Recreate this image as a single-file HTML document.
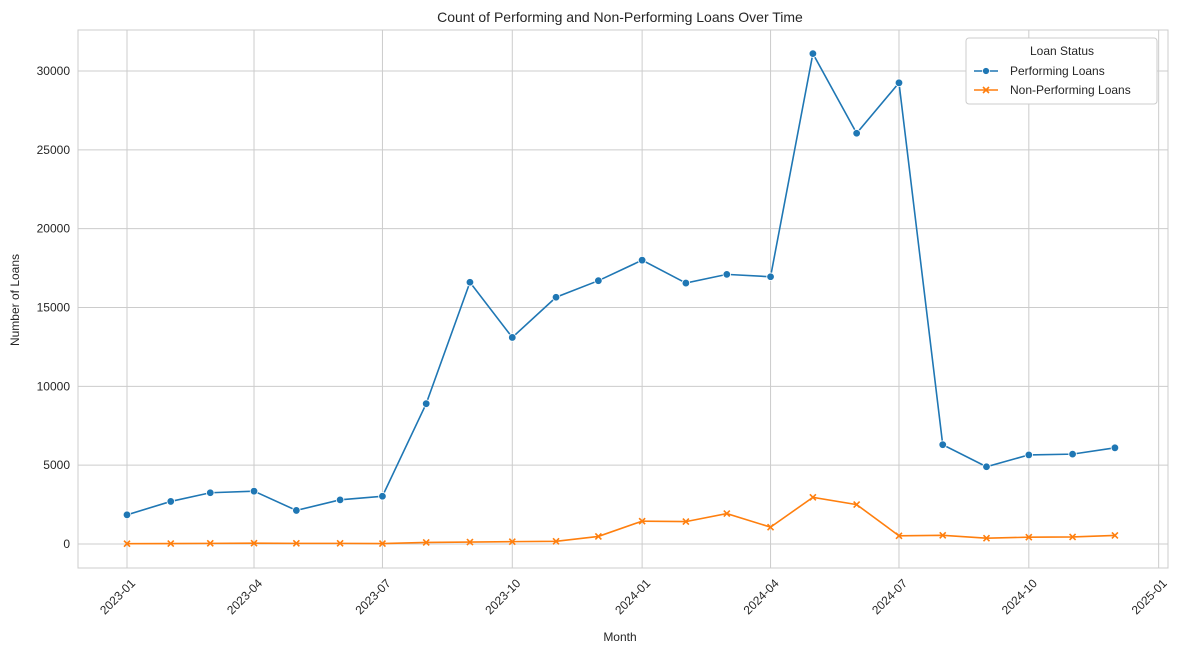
<!DOCTYPE html>
<html><head><meta charset="utf-8"><style>
body{margin:0;background:#fff;font-family:"Liberation Sans",Arial,sans-serif}
svg text{font-family:"Liberation Sans",Arial,sans-serif;fill:#262626}
</style></head><body>
<svg id="chart" width="1190" height="654" xmlns="http://www.w3.org/2000/svg">
<rect x="0" y="0" width="1190" height="654" fill="#fff"/>
<text x="620" y="22" font-size="14" text-anchor="middle">Count of Performing and Non-Performing Loans Over Time</text>
<rect x="78" y="30" width="1090" height="538" fill="none" stroke="#ccc"/>
<g id="grid"></g><g id="series"></g>
<text x="620" y="641" font-size="12" text-anchor="middle">Month</text>
<text x="19" y="300" font-size="12" text-anchor="middle" transform="rotate(-90 19 300)">Number of Loans</text>
<g>
<rect x="966" y="38" width="191" height="66" fill="#fff" stroke="#ccc" rx="3"/>
<text x="1062" y="55" font-size="12" text-anchor="middle">Loan Status</text>
<line x1="974" y1="71" x2="998" y2="71" stroke="#1f77b4" stroke-width="1.5"/><circle cx="986" cy="71" r="3.5" fill="#1f77b4" stroke="#fff" stroke-width="0.8"/>
<text x="1010" y="75" font-size="12">Performing Loans</text>
<line x1="974" y1="90" x2="998" y2="90" stroke="#ff7f0e" stroke-width="1.5"/><path d="M983,87l6,6M989,87l-6,6" stroke="#ff7f0e" stroke-width="1.6"/>
<text x="1010" y="94" font-size="12">Non-Performing Loans</text>
</g>
</svg>
<script>
const months=["2023-01","2023-02","2023-03","2023-04","2023-05","2023-06","2023-07","2023-08","2023-09","2023-10","2023-11","2023-12","2024-01","2024-02","2024-03","2024-04","2024-05","2024-06","2024-07","2024-08","2024-09","2024-10","2024-11","2024-12"];
const performing=[1850,2700,3250,3350,2130,2800,3030,8900,16600,13100,15650,16700,18000,16550,17100,16950,31100,26050,29250,6300,4900,5650,5700,6100];
const nonPerforming=[20,30,40,50,40,40,30,100,120,150,170,480,1450,1420,1930,1070,2960,2500,520,550,370,430,450,540];
const yTicks=[0,5000,10000,15000,20000,25000,30000];
const xTicks=["2023-01","2023-04","2023-07","2023-10","2024-01","2024-04","2024-07","2024-10","2025-01"];
const NS="http://www.w3.org/2000/svg";
const d0=Date.UTC(2023,0,1);
function days(s){const[a,b]=s.split("-").map(Number);return (Date.UTC(a,b-1,1)-d0)/864e5;}
const X=s=>127+days(s)*1.4113;
const Y=v=>544-v*0.015767;
function mk(t,a,p){const e=document.createElementNS(NS,t);for(const k in a)e.setAttribute(k,a[k]);p.appendChild(e);return e;}
const g=document.getElementById("grid"),sg=document.getElementById("series");
yTicks.forEach(v=>{
 const l=mk("line",{x1:78,x2:1168,y1:Y(v),y2:Y(v),stroke:"#ccc"},g);
 
 
 const t=mk("text",{x:70,y:Y(v)+4,"font-size":12,"text-anchor":"end"},g);t.textContent=v;
 
 
});
xTicks.forEach(s=>{
 const x=X(s);
 const l=mk("line",{x1:x,x2:x,y1:30,y2:568,stroke:"#ccc"},g);
 
 
 const t=mk("text",{x:x+9,y:584,"font-size":12,"text-anchor":"end",transform:`rotate(-45 ${x+9} 584)`},g);t.textContent=s;
 
 
});
function draw(vals,color,marker,name){
 const p=mk("polyline",{points:vals.map((v,i)=>X(months[i])+","+Y(vals[i])).join(" "),fill:"none",stroke:color,"stroke-width":1.6},sg);
 
 
 vals.forEach((v,i)=>{
  const x=X(months[i]),y=Y(v);let m;
  if(marker==="o")m=mk("circle",{cx:x,cy:y,r:3.8,fill:color,stroke:"#fff","stroke-width":0.8},sg);
  else m=mk("path",{d:`M${x-3},${y-3}l6,6M${x+3},${y-3}l-6,6`,stroke:color,"stroke-width":1.6},sg);
  
  
 });
}
draw(performing,"#1f77b4","o","performing");
draw(nonPerforming,"#ff7f0e","x","non-performing");
</script>
</body></html>
